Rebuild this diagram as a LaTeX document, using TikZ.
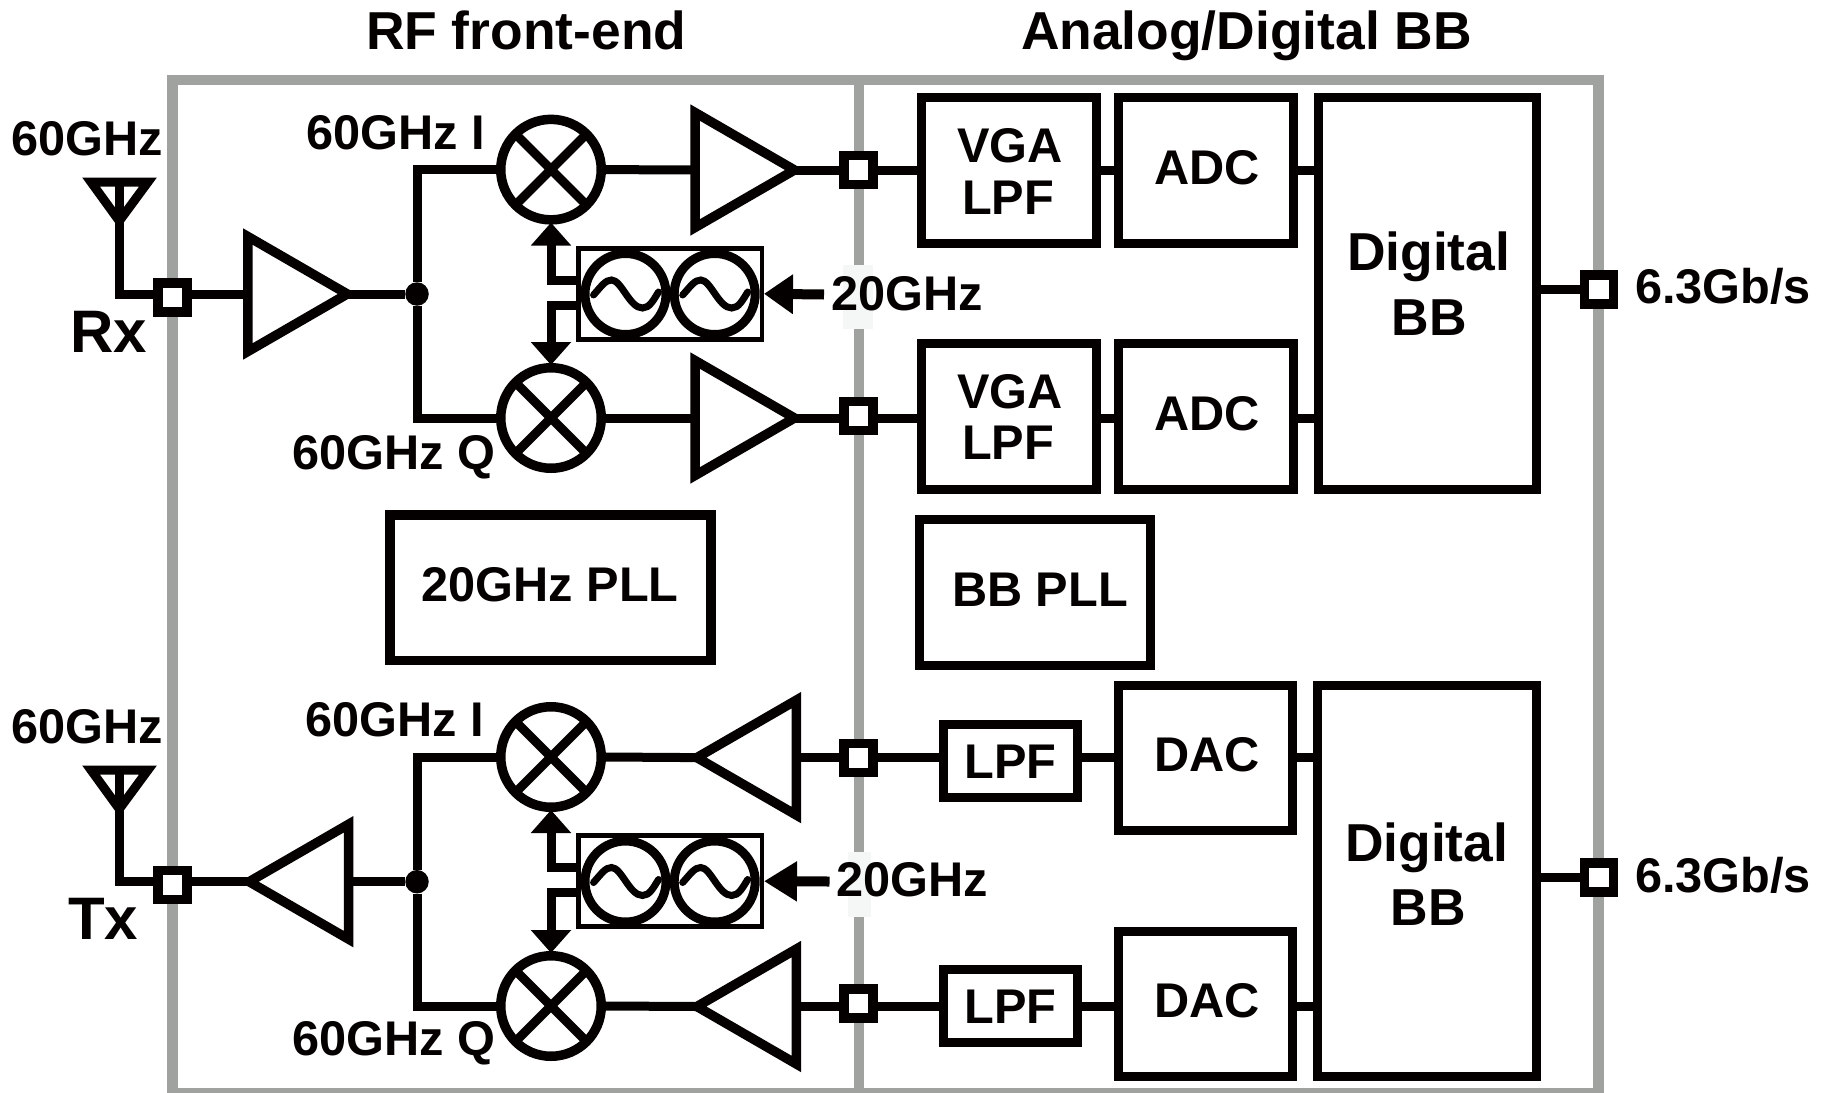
\documentclass[tikz,border=0pt]{standalone}
\usepackage{fontspec}
\setmainfont{Liberation Sans}
\usetikzlibrary{shapes.geometric,arrows.meta,calc}
\definecolor{ink}{HTML}{050000}
\definecolor{frame}{HTML}{A0A2A0}
\definecolor{patch}{HTML}{F5F7F6}
\tikzset{
  lbl/.style={inner sep=0pt,outer sep=0pt,anchor=base west,text=ink},
  t48/.style={lbl,font=\fontsize{48.7}{48.7}\selectfont\bfseries},
  t52/.style={lbl,font=\fontsize{52}{52}\selectfont\bfseries},
  t53/.style={lbl,font=\fontsize{53.4}{53.4}\selectfont\bfseries},
  t60/.style={lbl,font=\fontsize{60}{60}\selectfont\bfseries},
  wire/.style={draw=ink,line width=9pt,line join=miter},
  blk/.style={draw=ink,line width=9pt,fill=white,inner sep=0pt,rectangle},
  port/.style={draw=ink,line width=9.5pt,fill=white,inner sep=0pt,rectangle,minimum width=29pt,minimum height=29pt},
  ampl/.style={draw=ink,line width=9.5pt,fill=white,isosceles triangle,isosceles triangle stretches,inner sep=0pt,outer sep=0pt,minimum height=99.5pt,minimum width=115pt,anchor=apex},
  mixer/.style={draw=ink,line width=9.5pt,fill=white,circle,inner sep=0pt,minimum size=100.5pt,
    path picture={\draw[ink,line width=9pt] (path picture bounding box.north west) -- (path picture bounding box.south east)
      (path picture bounding box.north east) -- (path picture bounding box.south west);}},
  osc/.style={draw=ink,line width=9pt,circle,inner sep=0pt,minimum size=81pt,
    path picture={\draw[ink,line width=7pt,line cap=round,shift={(path picture bounding box.center)}]
      (-32,1) .. controls (-24,-8) and (-20,-14) .. (-14,-14) .. controls (-4,-14) and (4,14) .. (17,14) .. controls (24,14) and (28,6) .. (33,-2);}},
  vcob/.style={draw=ink,line width=4.5pt,rectangle,inner sep=0pt,minimum width=183.5pt,minimum height=91pt},
  jdot/.style={fill=ink,circle,inner sep=0pt,minimum size=23.5pt},
  head/.style={-{Triangle[length=23pt,width=39pt]}},
  headb/.style={-{Triangle[length=29pt,width=38pt]}},
  headc/.style={-{Triangle[length=33pt,width=38pt]}},
  aerial/.style={draw=ink,line width=9pt,line join=miter}
}
\begin{document}
\begin{tikzpicture}[x=1pt,y=-1pt]
\path[use as bounding box,clip] (0,0) rectangle (1825,1092);
\fill[white] (0,0) rectangle (1825,1092);
% grey frame
\draw[frame,line width=10.5pt] (172.5,80) rectangle (1598.5,1093);
\draw[frame,line width=10pt] (858.8,80) -- (858.8,1093);
\fill[patch] (843,265) rectangle (873,329);
\fill[patch] (848,852) rectangle (871,917);

% headings
\node[t53] (hrf) at (366,49) {RF front-end};
\node[t53] (hbb) at (1021,49) {Analog/Digital BB};

% ---------- Rx side
\node[t48] (l60r) at (11.5,155.7) {60GHz};
\node[t60] (lrx) at (70,352) {Rx};
\node[t48] (lir) at (306,149) {60GHz I};
\node[t48] (lqr) at (292.5,469) {60GHz Q};
\node[t48] (l20r) at (831.5,310) {20GHz};
\coordinate (anr) at (119.3,221);
\coordinate (anrt) at (119.3,182);
\draw[aerial] (91,182) -- (148,182) -- (anr) -- cycle;
\node[port] (pr) at (172.7,297.5) {};
\node[ampl,shape border rotate=0] (ar) at (347.3,294) {};
\node[jdot] (dr) at (417,294) {};
\node[mixer] (mi) at (551,169.6) {};
\node[mixer] (mq) at (551,418) {};
\node[ampl] (ai) at (794.5,170) {};
\node[ampl] (aq) at (794.5,418) {};
\node[port] (pi) at (858.3,170) {};
\node[port] (pq) at (858.3,416) {};
\node[vcob] (vr) at (670,293.8) {};
\node[osc] (o1r) at (625.5,294) {};
\node[osc] (o2r) at (714.7,294) {};
\coordinate (fr) at (824,294.5);
\draw[wire] (anrt) -- (anr) |- (pr.west |- ar.lower side);
\draw[wire] (pr.east |- ar.lower side) -- (ar.lower side);
\draw[wire] (ar.apex) -- (dr);
\draw[wire] (mi.west) -| (dr) |- (mq.west);
\draw[wire] (mi.east) -- (ai.lower side);
\draw[wire] (mq.east) -- (aq.lower side);
\draw[wire] (ai.apex) -- (pi.west |- ai.apex);
\draw[wire] (aq.apex) -- (pq.west |- aq.apex);
\draw[wire,head,shorten >=-2pt] (vr.west |- 0,280) -| (mi.south);
\draw[wire,head,shorten >=-2pt] (vr.west |- 0,305) -| (mq.north);
\draw[wire,headb,line width=10pt] (fr) -- (vr.east);

% blocks, Rx
\node[blk,minimum width=175pt,minimum height=146pt] (vga1) at (1008.5,170.2) {};
\node[blk,minimum width=175pt,minimum height=146pt] (adc1) at (1206,170.2) {};
\node[blk,minimum width=218pt,minimum height=392pt] (dbb1) at (1427.5,293.1) {};
\node[blk,minimum width=175pt,minimum height=146pt] (vga2) at (1008.5,416.2) {};
\node[blk,minimum width=175pt,minimum height=146pt] (adc2) at (1206,416.2) {};
\node[port] (po1) at (1599,289.5) {};
\draw[wire] (pi.east |- ai.apex) -- (vga1.west |- ai.apex);
\draw[wire] (pq.east |- aq.apex) -- (vga2.west |- aq.apex);
\draw[wire] (vga1.east |- ai.apex) -- (adc1.west |- ai.apex);
\draw[wire] (vga2.east |- aq.apex) -- (adc2.west |- aq.apex);
\draw[wire] (adc1.east |- ai.apex) -- (dbb1.west |- ai.apex);
\draw[wire] (adc2.east |- aq.apex) -- (dbb1.west |- aq.apex);
\draw[wire] (dbb1.east |- po1.west) -- (po1.west);
\node[t48] (tv1) at (957,162) {VGA};
\node[t48] (tl1) at (962,214) {LPF};
\node[t48] (ta1) at (1154,184.5) {ADC};
\node[t48] (tv2) at (957,408) {VGA};
\node[t48] (tl2) at (962,459) {LPF};
\node[t48] (ta2) at (1154,430.6) {ADC};
\node[t53] (td1) at (1347,270) {Digital};
\node[t52] (tb1) at (1391.5,335.5) {BB};
\node[t48] (ts1) at (1635,303.7) {6.3Gb/s};

% PLLs
\node[blk,line width=9.5pt,minimum width=321pt,minimum height=145.5pt] (pllr) at (550.6,587.5) {};
\node[t48] (tpr) at (421.5,601.7) {20GHz PLL};
\node[blk,minimum width=231pt,minimum height=146pt] (pllb) at (1034.9,592) {};
\node[t48] (tpb) at (952,606.7) {BB PLL};

% ---------- Tx side
\node[t48] (l60t) at (11.5,743.3) {60GHz};
\node[t60] (ltx) at (68,939) {Tx};
\node[t48] (lit) at (305.5,736.7) {60GHz I};
\node[t48] (lqt) at (292,1055.7) {60GHz Q};
\node[t48] (l20t) at (836.5,896) {20GHz};
\coordinate (ant) at (119.3,809);
\coordinate (antt) at (119.3,770);
\draw[aerial] (91,770) -- (148,770) -- (ant) -- cycle;
\node[port] (pt) at (172.7,885) {};
\node[ampl,shape border rotate=180] (at) at (249.2,881.7) {};
\node[jdot] (dt) at (417,881.7) {};
\node[mixer] (mti) at (551,757) {};
\node[mixer] (mtq) at (551,1006) {};
\node[ampl,shape border rotate=180] (ati) at (696.9,757.6) {};
\node[ampl,shape border rotate=180] (atq) at (696.9,1006.5) {};
\node[port] (pti) at (858.3,758) {};
\node[port] (ptq) at (858.3,1003.3) {};
\node[vcob] (vt) at (670,881.2) {};
\node[osc] (o1t) at (625.5,881.5) {};
\node[osc] (o2t) at (714.7,881.5) {};
\coordinate (ft) at (829.5,881.5);
\draw[wire] (antt) -- (ant) |- (pt.west |- at.lower side);
\draw[wire] (pt.east |- at.lower side) -- (at.apex);
\draw[wire] (at.lower side) -- (dt);
\draw[wire] (mti.west) -| (dt) |- (mtq.west);
\draw[wire] (mti.east) -- (ati.apex);
\draw[wire] (mtq.east) -- (atq.apex);
\draw[wire] (ati.lower side) -- (pti.west |- ati.lower side);
\draw[wire] (atq.lower side) -- (ptq.west |- atq.lower side);
\draw[wire,head,shorten >=-2pt] (vt.west |- 0,867.5) -| (mti.south);
\draw[wire,head,shorten >=-2pt] (vt.west |- 0,892.5) -| (mtq.north);
\draw[wire,headc,line width=10pt] (ft) -- (vt.east);

\node[blk,minimum width=134pt,minimum height=73.5pt] (lpf1) at (1010.7,760.8) {};
\node[blk,minimum width=134pt,minimum height=73pt] (lpf2) at (1010.7,1006) {};
\node[blk,minimum width=174.5pt,minimum height=145pt] (dac1) at (1205.7,757.8) {};
\node[blk,minimum width=174.5pt,minimum height=145pt] (dac2) at (1205.7,1003.5) {};
\node[blk,minimum width=218.5pt,minimum height=391pt] (dbb2) at (1427,880.7) {};
\node[port] (po2) at (1599,877.3) {};
\draw[wire] (pti.east |- ati.lower side) -- (lpf1.west |- ati.lower side);
\draw[wire] (ptq.east |- atq.lower side) -- (lpf2.west |- atq.lower side);
\draw[wire] (lpf1.east |- ati.lower side) -- (dac1.west |- ati.lower side);
\draw[wire] (lpf2.east |- atq.lower side) -- (dac2.west |- atq.lower side);
\draw[wire] (dac1.east |- ati.lower side) -- (dbb2.west |- ati.lower side);
\draw[wire] (dac2.east |- atq.lower side) -- (dbb2.west |- atq.lower side);
\draw[wire] (dbb2.east |- po2.west) -- (po2.west);
\node[t48] (tl3) at (964.5,778.3) {LPF};
\node[t48] (tl4) at (964.5,1023.3) {LPF};
\node[t48] (tdc1) at (1154,771.7) {DAC};
\node[t48] (tdc2) at (1154,1017.7) {DAC};
\node[t53] (td2) at (1345,861) {Digital};
\node[t52] (tb2) at (1390.5,925.7) {BB};
\node[t48] (ts2) at (1635,892) {6.3Gb/s};
\end{tikzpicture}
\end{document}
